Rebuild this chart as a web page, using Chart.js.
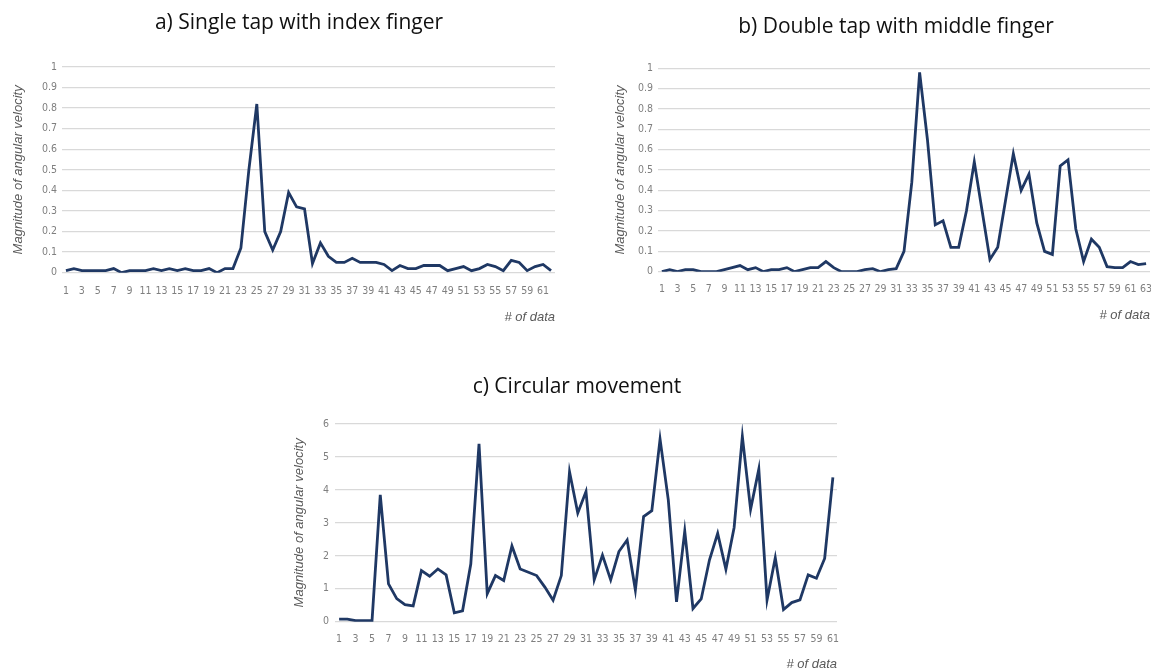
<!DOCTYPE html>
<html>
<head>
<meta charset="utf-8">
<script src="https://cdn.jsdelivr.net/npm/chart.js@4/dist/chart.umd.min.js"></script>
<style>
  html, body { margin: 0; padding: 0; background: #ffffff; overflow: hidden; }
  body { width: 1151px; height: 670px; position: relative; }
  .box { position: absolute; }
</style>
</head>
<body>
<div class="box" id="boxA" style="left:0px;top:0px;width:598px;height:340px;"><canvas id="chartA"></canvas></div>
<div class="box" id="boxB" style="left:600px;top:0px;width:592px;height:340px;"><canvas id="chartB"></canvas></div>
<div class="box" id="boxC" style="left:280px;top:350px;width:594px;height:330px;"><canvas id="chartC"></canvas></div>
<script>
// a) single tap with index finger (62 samples)
const singleTap = [0.01, 0.02, 0.01, 0.01, 0.01, 0.01, 0.02, 0.00, 0.01, 0.01,
                   0.01, 0.02, 0.01, 0.02, 0.01, 0.02, 0.01, 0.01, 0.02, 0.00,
                   0.02, 0.02, 0.12, 0.50, 0.82, 0.20, 0.11, 0.20, 0.39, 0.32,
                   0.31, 0.045, 0.145, 0.08, 0.05, 0.05, 0.07, 0.05, 0.05, 0.05,
                   0.04, 0.01, 0.035, 0.02, 0.02, 0.035, 0.035, 0.035, 0.01, 0.02,
                   0.03, 0.01, 0.02, 0.04, 0.03, 0.01, 0.06, 0.05, 0.01, 0.03,
                   0.04, 0.01];

// b) double tap with middle finger (63 samples)
const doubleTap = [0.00, 0.01, 0.00, 0.01, 0.01, 0.00, 0.00, 0.00, 0.01, 0.02,
                   0.03, 0.01, 0.02, 0.00, 0.01, 0.01, 0.02, 0.00, 0.01, 0.02,
                   0.02, 0.05, 0.02, 0.00, 0.00, 0.00, 0.01, 0.015, 0.00, 0.01,
                   0.015, 0.10, 0.44, 0.98, 0.65, 0.23, 0.25, 0.12, 0.12, 0.30,
                   0.54, 0.30, 0.06, 0.12, 0.35, 0.58, 0.40, 0.48, 0.24, 0.10,
                   0.085, 0.52, 0.55, 0.21, 0.05, 0.16, 0.12, 0.025, 0.02, 0.02,
                   0.05, 0.035, 0.04];

// c) circular movement (61 samples)
const circular = [0.08, 0.08, 0.03, 0.03, 0.03, 3.85, 1.15, 0.70, 0.52, 0.48,
                  1.55, 1.38, 1.60, 1.42, 0.27, 0.33, 1.75, 5.40, 0.85, 1.40,
                  1.25, 2.30, 1.60, 1.50, 1.40, 1.05, 0.65, 1.40, 4.55, 3.30,
                  3.95, 1.27, 2.02, 1.27, 2.13, 2.48, 0.96, 3.19, 3.37, 5.54,
                  3.70, 0.60, 2.75, 0.40, 0.69, 1.87, 2.68, 1.59, 2.86, 5.62,
                  3.41, 4.63, 0.66, 1.94, 0.37, 0.58, 0.66, 1.42, 1.32, 1.92,
                  4.38];

const titleA = 'a) Single tap with index finger';
const titleB = 'b) Double tap with middle finger';
const titleC = 'c) Circular movement';
const yTitle = 'Magnitude of angular velocity';
const xTitle = '# of data';

const LINE_COLOR = '#1f3864';
const GRID_COLOR = '#d9d9d9';
const TICK_COLOR = '#7f7f7f';
const TICK_FONT = { family: "'Liberation Sans Narrow', 'DejaVu Sans Condensed', 'Liberation Sans', sans-serif", size: 10.5 };
const AXIS_TITLE_FONT = { family: "'Liberation Sans', Arial, sans-serif", size: 13, style: 'italic' };

function makeLabels(n) {
    const out = [];
    for (let i = 1; i <= n; i++) out.push(String(i));
    return out;
}

function buildChart(canvasId, values, cfg) {
    const canvas = document.getElementById(canvasId);
    return new Chart(canvas, {
        type: 'line',
        data: {
            labels: makeLabels(values.length),
            datasets: [{
                data: values,
                borderColor: LINE_COLOR,
                borderWidth: 2.8,
                pointRadius: 0,
                tension: 0,
                fill: false
            }]
        },
        options: {
            responsive: true,
            maintainAspectRatio: false,
            animation: false,
            layout: { padding: 0 },
            plugins: {
                legend: { display: false },
                tooltip: { enabled: false },
                title: {
                    display: true,
                    text: cfg.title,
                    color: '#111111',
                    font: { family: "'Open Sans', 'Noto Sans', sans-serif", size: 21, weight: 'normal', lineHeight: 1.2 },
                    padding: { top: cfg.titleTop, bottom: cfg.titleBottom }
                }
            },
            scales: {
                x: {
                    offset: true,
                    grid: { display: false, drawTicks: false },
                    border: { display: false },
                    ticks: {
                        color: TICK_COLOR,
                        font: TICK_FONT,
                        padding: cfg.xTickPad,
                        autoSkip: false,
                        maxRotation: 0,
                        minRotation: 0,
                        callback: function(val, index) {
                            return index % 2 === 0 ? this.getLabelForValue(val) : '';
                        }
                    },
                    title: {
                        display: true,
                        text: xTitle,
                        align: 'end',
                        color: '#595959',
                        font: AXIS_TITLE_FONT,
                        padding: { top: 0, bottom: cfg.xTitlePad }
                    },
                    afterFit: function(scale) { scale.height = cfg.xHeight; }
                },
                y: {
                    min: 0,
                    max: cfg.yMax,
                    grid: { color: GRID_COLOR, lineWidth: 1.3, drawTicks: false },
                    border: { display: false },
                    ticks: {
                        stepSize: cfg.yStep,
                        color: TICK_COLOR,
                        font: TICK_FONT,
                        padding: cfg.yTickPad,
                        callback: v => String(Number(v.toFixed(1)))
                    },
                    title: {
                        display: true,
                        text: yTitle,
                        color: '#595959',
                        font: AXIS_TITLE_FONT,
                        padding: { top: cfg.yTitlePad, bottom: 0 }
                    },
                    afterFit: function(scale) { scale.width = cfg.yWidth; }
                },
                // empty spacer on the right so the title stays centred on the whole panel
                spacer: {
                    type: 'linear',
                    position: 'right',
                    grid: { display: false, drawTicks: false },
                    border: { display: false },
                    ticks: { display: false },
                    afterFit: function(scale) { scale.width = cfg.padRight; }
                }
            }
        }
    });
}

buildChart('chartA', singleTap, {
    title: titleA, padRight: 43, titleTop: 10.4, titleBottom: 31.4,
    xHeight: 67.3, xTickPad: 12, xTitlePad: 14.7,
    yWidth: 62, yTickPad: 5, yTitlePad: 10.5, yMax: 1, yStep: 0.1
});

buildChart('chartB', doubleTap, {
    title: titleB, padRight: 42, titleTop: 14.4, titleBottom: 28.7,
    xHeight: 68.3, xTickPad: 11.6, xTitlePad: 17.2,
    yWidth: 58, yTickPad: 5, yTitlePad: 12.2, yMax: 1, yStep: 0.1
});

buildChart('chartC', circular, {
    title: titleC, padRight: 37, titleTop: 24.4, titleBottom: 24.4,
    xHeight: 58.3, xTickPad: 11.6, xTitlePad: 8.2,
    yWidth: 55, yTickPad: 6, yTitlePad: 11.2, yMax: 6, yStep: 1
});
</script>
</body>
</html>
